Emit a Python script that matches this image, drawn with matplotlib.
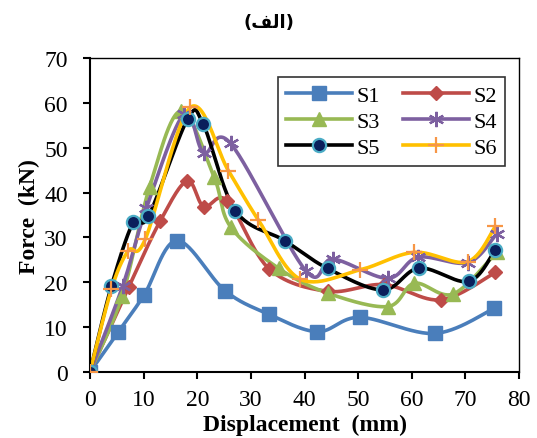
import numpy as np
import matplotlib
matplotlib.use("Agg")
import matplotlib.pyplot as plt

# data (displacement mm, force kN)
x1 = [0, 5.3, 10.1, 16.2, 25.2, 33.3, 42.4, 50.3, 64.3, 75.4]
y1 = [0, 9.0, 17.2, 29.3, 18.1, 12.9, 9.0, 12.2, 8.6, 14.2]

x2 = [0, 7.2, 13.1, 18.1, 21.2, 25.6, 33.4, 44.3, 54.8, 65.4, 75.6]
y2 = [0, 18.9, 33.7, 42.6, 36.9, 38.2, 23.0, 18.0, 19.5, 16.1, 22.2]

x3 = [0, 6.0, 11.1, 16.9, 23.1, 26.2, 35.2, 44.3, 55.5, 60.5, 67.7, 75.8]
y3 = [0, 17.0, 41.2, 58.2, 43.6, 32.4, 23.1, 17.6, 14.6, 19.8, 17.4, 26.7]

x4 = [0, 6.1, 10.5, 17.5, 21.2, 26.2, 40.3, 45.3, 55.5, 61.2, 70.5, 75.8]
y4 = [0, 19.2, 36.5, 57.5, 48.9, 51.0, 22.5, 25.2, 20.9, 25.6, 24.4, 30.8]

x5 = [0, 4.0, 8.1, 10.9, 18.2, 21.1, 27.1, 36.3, 44.3, 54.6, 61.4, 70.6, 75.6]
y5 = [0, 19.2, 33.5, 34.7, 56.4, 55.3, 36.0, 29.3, 23.1, 18.3, 23.2, 20.2, 27.3]

x6 = [0, 4.0, 7.1, 10.3, 18.7, 25.8, 31.4, 39.2, 50.4, 60.5, 70.4, 75.6]
y6 = [0, 18.5, 27.0, 29.6, 59.0, 44.9, 33.9, 20.7, 22.8, 26.7, 24.6, 32.5]

names = ["S1", "S2", "S3", "S4", "S5", "S6"]
xticks = [0, 10, 20, 30, 40, 50, 60, 70, 80]
yticks = [0, 10, 20, 30, 40, 50, 60, 70]


def smooth(x, y, n=30):
    # excel style smoothed line: cubic bezier with catmull-rom control points
    p = np.column_stack([x, y]).astype(float)
    out = [p[0]]
    for i in range(len(p) - 1):
        p0 = p[i - 1] if i > 0 else p[i]
        p1 = p[i]
        p2 = p[i + 1]
        p3 = p[i + 2] if i + 2 < len(p) else p[i + 1]
        c1 = p1 + (p2 - p0) / 6
        c2 = p2 - (p3 - p1) / 6
        t = np.linspace(0, 1, n)[1:, None]
        seg = (1 - t)**3 * p1 + 3 * (1 - t)**2 * t * c1 + 3 * (1 - t) * t**2 * c2 + t**3 * p2
        out.extend(seg)
    out = np.array(out)
    return out[:, 0], out[:, 1]


plt.rcParams['font.family'] = ['Liberation Serif', 'DejaVu Sans']

fig = plt.figure(figsize=(5.37, 4.39), dpi=100)
ax = fig.add_axes([0.1676, 0.1503, 0.799, 0.715])

styles = [
    dict(color='#4A7EBB', marker='s', mfc='#4A7EBB', mec='#4A7EBB', ms=9.5, mew=1),
    dict(color='#BE4B48', marker='D', mfc='#BE4B48', mec='#BE4B48', ms=7, mew=1),
    dict(color='#98B954', marker='^', mfc='#98B954', mec='#98B954', ms=10, mew=1),
    dict(color='#7D60A0', marker=(6, 2, 0), mfc='#7D60A0', mec='#7D60A0', ms=11, mew=1.6),
    dict(color='black', marker='o', mfc='#0A1F5C', mec='#4BACC6', ms=9.5, mew=1.6),
    dict(color='#FFC000', marker='+', mfc='#F79646', mec='#F79646', ms=12, mew=1.6),
]

data = [(x1, y1), (x2, y2), (x3, y3), (x4, y4), (x5, y5), (x6, y6)]
handles = []
for (xs, ys), nm, st in zip(data, names, styles):
    sx, sy = smooth(xs, ys)
    ax.plot(sx, sy, color=st['color'], lw=2.6, solid_capstyle='round', zorder=2)
    ax.plot(xs, ys, ls='none', marker=st['marker'], mfc=st['mfc'], mec=st['mec'],
            ms=st['ms'], mew=st['mew'], zorder=3)
    h, = ax.plot([], [], color=st['color'], lw=2.6, marker=st['marker'], mfc=st['mfc'],
                 mec=st['mec'], ms=st['ms'], mew=st['mew'], label=nm)
    handles.append(h)

ax.set_xlim(0, 80)
ax.set_ylim(0, 70)
ax.set_xticks(xticks)
ax.set_yticks(yticks)
ax.tick_params(labelsize=17, width=1.5, length=5, direction='out')
ax.tick_params(axis='x', pad=7)
ax.tick_params(axis='y', pad=11)
for s in ax.spines.values():
    s.set_linewidth(1.5)
ax.spines['right'].set_linewidth(1.0)
ax.spines['top'].set_linewidth(1.0)

ax.set_xlabel('Displacement  (mm)', fontsize=17, fontweight='bold', labelpad=3)
ax.set_ylabel('Force  (kN)', fontsize=17, fontweight='bold', labelpad=3)

# title in visual (presentation form) order
fig.text(0.5, 0.948, '(\uFED2\uFEDF\uFE8D)', ha='center', va='center', fontsize=13,
         fontweight='bold', family=['DejaVu Sans'])

# legend rows: S1 S2 / S3 S4 / S5 S6
order = [0, 2, 4, 1, 3, 5]
leg = ax.legend(handles=[handles[i] for i in order], ncol=2, loc='upper right',
                bbox_to_anchor=(0.967, 0.939),
                fontsize=16, frameon=True, fancybox=False, edgecolor='black',
                handlelength=3.0, columnspacing=1.0, handletextpad=0.2,
                labelspacing=0.25, borderpad=0.35, borderaxespad=0)
leg.get_frame().set_linewidth(1.2)

fig.savefig('out.png', dpi=100)
